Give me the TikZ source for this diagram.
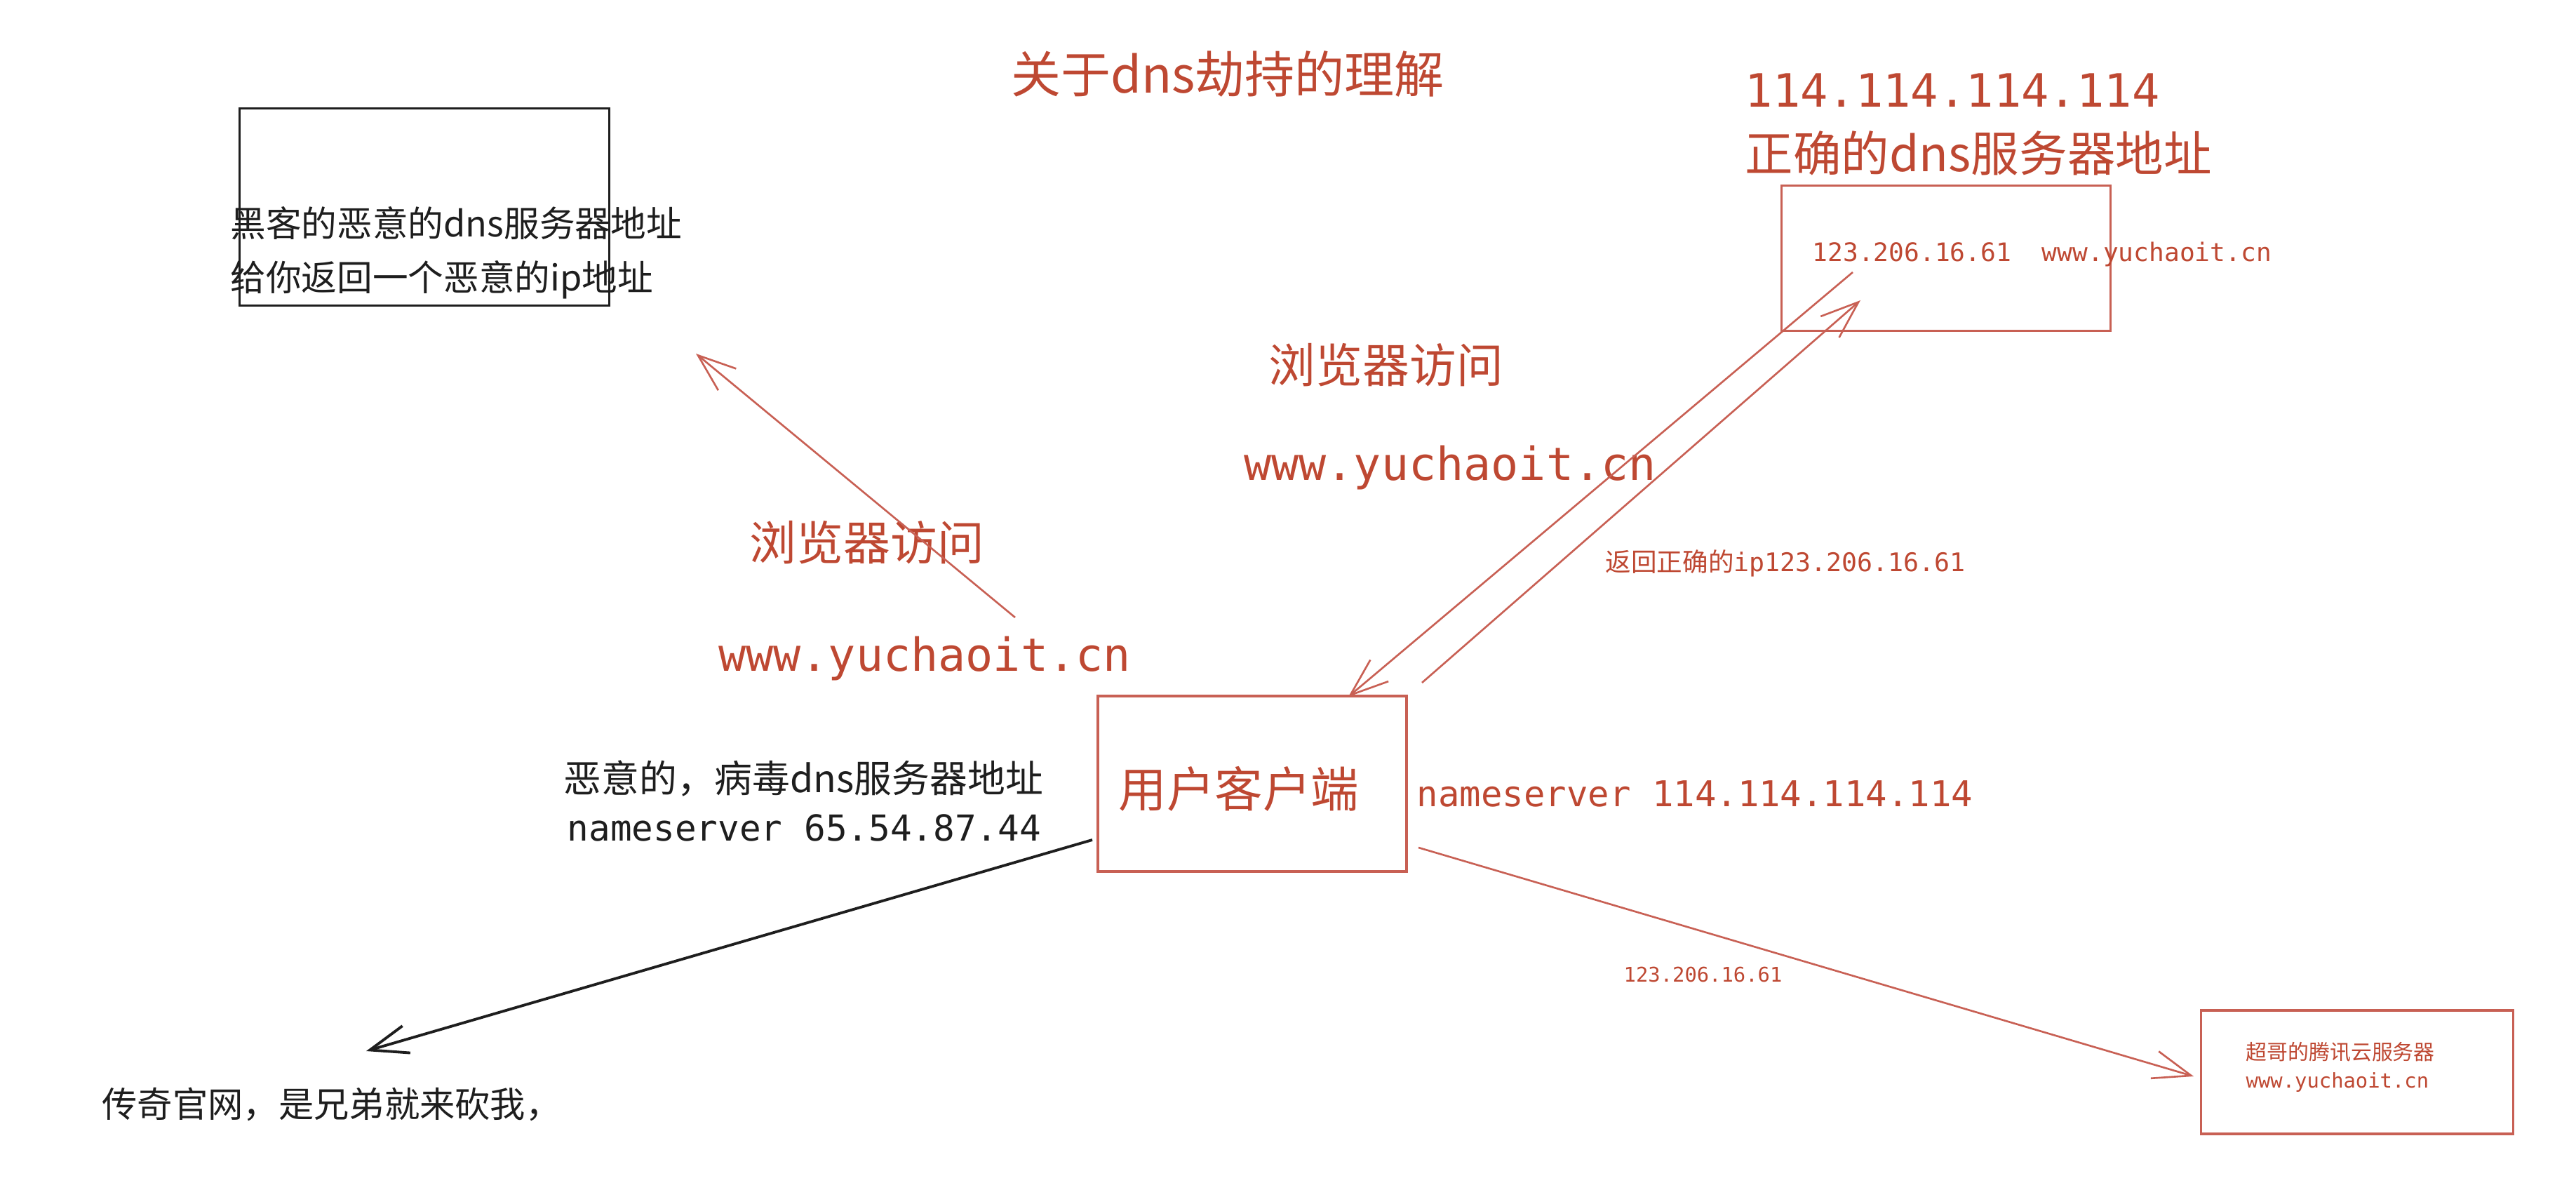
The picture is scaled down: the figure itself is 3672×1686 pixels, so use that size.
\documentclass[tikz,border=0pt]{standalone}
\usepackage{fontspec}
\setmainfont{Noto Sans CJK SC}
\newfontfamily\mono{DejaVu Sans Mono}
\usetikzlibrary{arrows.meta,positioning}
\definecolor{rojo}{RGB}{190,72,50}
\definecolor{rosa}{RGB}{200,96,84}
\definecolor{negro}{RGB}{30,30,30}

\begin{document}
\begin{tikzpicture}[x=0.01cm, y=-0.01cm]

    \tikzstyle{caja} = [
        rectangle,
        draw=rosa,
        line width=1pt,
        inner sep=0pt,
    ]
    \tikzstyle{texto} = [
        inner sep=0pt,
        anchor=west,
        align=left,
    ]
    \tikzstyle{flecha} = [
        draw=rosa,
        line width=0.75pt,
        -{Straight Barb[length=5.4mm, width=4mm]},
    ]

    \useasboundingbox (0,0) rectangle (3672,1686);

    \node [texto, anchor=center, rojo, font=\fontsize{20.2}{24}\selectfont] (titulo) at (1750,105) {关于dns劫持的理解};

    % hacker dns
    \node [caja, draw=negro, minimum width=52.7mm, minimum height=28.1mm] (hacker) at (605,295) {};
    \node [texto, negro, font=\fontsize{14.4}{21.9}\selectfont] (hackertxt) at (328,360)
        {黑客的恶意的dns服务器地址\\给你返回一个恶意的ip地址};

    % correct dns
    \node [texto, rojo, font=\mono\fontsize{18.6}{22}\selectfont] (dnsip) at (2487,129) {114.114.114.114};
    \node [texto, rojo, font=\fontsize{19.5}{23}\selectfont] (dnstxt) at (2487,218) {正确的dns服务器地址};
    \node [caja, minimum width=46.9mm, minimum height=20.7mm] (dnsok) at (2774,368) {};
    \node [texto, rojo, font=\mono\fontsize{10.3}{12}\selectfont] (registro) at (2583,363) {123.206.16.61~~www.yuchaoit.cn};

    \node [texto, anchor=center, rojo, font=\fontsize{19}{23}\selectfont] (visita1) at (1976,520) {浏览器访问};
    \node [texto, anchor=center, rojo, font=\mono\fontsize{18.5}{22}\selectfont] (url1) at (2067,667) {www.yuchaoit.cn};
    \node [texto, anchor=center, rojo, font=\fontsize{19}{23}\selectfont] (visita2) at (1236,773) {浏览器访问};
    \node [texto, anchor=center, rojo, font=\mono\fontsize{18.5}{22}\selectfont] (url2) at (1318,939) {www.yuchaoit.cn};
    \node [texto, rojo, font=\fontsize{10.4}{12}\selectfont] (retorno) at (2288,803) {返回正确的{\mono ip123.206.16.61}};

    % client
    \node [caja, minimum width=44mm, minimum height=25mm] (cliente) at (1785,1117) {};
    \node [texto, anchor=center, rojo, font=\fontsize{19.5}{23}\selectfont] (clientetxt) at (1766,1124) {用户客户端};
    \node [texto, negro, font=\fontsize{15.3}{18}\selectfont] (virus) at (803,1110) {恶意的，病毒dns服务器地址};
    \node [texto, negro, font=\mono\fontsize{14.5}{17}\selectfont] (ns65) at (808,1180) {nameserver 65.54.87.44};
    \node [texto, rojo, font=\mono\fontsize{14.4}{17}\selectfont] (ns114) at (2019,1131) {nameserver 114.114.114.114};

    \node [texto, negro, font=\fontsize{14.3}{17}\selectfont] (chuanqi) at (145,1574) {传奇官网，是兄弟就来砍我，};
    \node [texto, rojo, font=\mono\fontsize{8.2}{10}\selectfont] (ipreal) at (2314,1389) {123.206.16.61};

    % tencent server
    \node [caja, minimum width=44.5mm, minimum height=17.6mm] (tencent) at (3360,1528) {};
    \node [texto, rojo, font=\fontsize{8.5}{10}\selectfont] (tencent1) at (3201,1499) {超哥的腾讯云服务器};
    \node [texto, rojo, font=\mono\fontsize{8.2}{10}\selectfont] (tencent2) at (3201,1543) {www.yuchaoit.cn};

    \coordinate (a1) at (1447,880);
    \coordinate (a2) at (992,504);
    \coordinate (b1) at (2641,388);
    \coordinate (b2) at (1922,993);
    \coordinate (c1) at (2027,973);
    \coordinate (c2) at (2652,428);
    \coordinate (d1) at (1557,1197);
    \coordinate (d2) at (522,1498);
    \coordinate (e1) at (2022,1208);
    \coordinate (e2) at (3127,1534);

    \path [flecha] (a1) -- (a2);
    \path [flecha] (b1) -- (b2);
    \path [flecha] (c1) -- (c2);
    \path [flecha, draw=negro, line width=1.1pt] (d1) -- (d2);
    \path [flecha] (e1) -- (e2);

\end{tikzpicture}
\end{document}
